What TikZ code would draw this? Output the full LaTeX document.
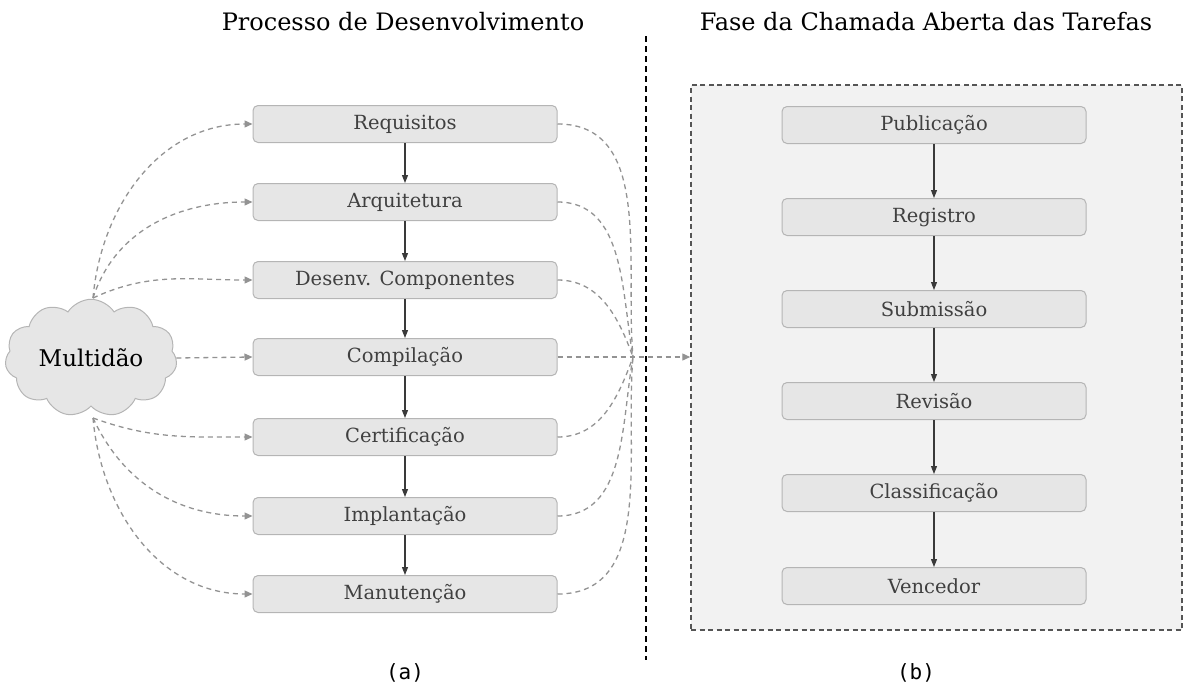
\documentclass[tikz,border=0pt]{standalone}
\usepackage{fontspec}
\setmainfont{DejaVu Serif}
\newfontfamily\labfont{DejaVu Sans Mono}
\usetikzlibrary{shapes.symbols,arrows.meta}
\definecolor{boxfill}{HTML}{E6E6E6}
\definecolor{boxline}{HTML}{B5B5B5}
\definecolor{boxtext}{HTML}{404040}
\definecolor{arrowc}{HTML}{3A3A3A}
\definecolor{dashc}{HTML}{939393}
\definecolor{panelfill}{HTML}{F2F2F2}
\definecolor{panelline}{HTML}{555555}
\begin{document}
\begin{tikzpicture}[x=1pt,y=-1pt,
  stagebox/.style={draw=boxline, fill=boxfill, rounded corners=5pt, minimum width=304pt,
    minimum height=37pt, inner sep=0pt, text=boxtext, line width=1pt,
    font=\fontsize{19.5}{22}\selectfont},
  flow/.style={-{Triangle[length=8pt,width=6pt]}, line width=1.1pt, draw=arrowc},
  crowd/.style={draw=dashc, line width=1.3pt, dash pattern=on 5pt off 4pt},
  crowdarrow/.style={crowd, -{Triangle[length=8pt,width=7pt,fill=dashc]}},
  title/.style={font=\fontsize{24}{28}\selectfont, text=black},
  sublabel/.style={font=\labfont\fontsize{21}{24}\selectfont}]
\useasboundingbox (0,0) rectangle (1185,691);

% titles
\node[title] (t1) at (403,22) {Processo de Desenvolvimento};
\node[title] (t2) at (926,22) {Fase da Chamada Aberta das Tarefas};

% separator
\coordinate (s1) at (646,36);
\coordinate (s2) at (646,660);
\draw[line width=1.6pt, dash pattern=on 6pt off 4pt] (s1) -- (s2);

% panel
\node[draw=panelline, fill=panelfill, line width=1.5pt, dash pattern=on 5pt off 3.5pt,
  minimum width=491pt, minimum height=545pt, inner sep=0pt] (fase) at (936.5,357.5) {};

% left stages
\node[stagebox] (req) at (405,124) {Requisitos};
\node[stagebox] (arq) at (405,202) {Arquitetura};
\node[stagebox] (des) at (405,280) {Desenv. Componentes};
\node[stagebox] (comp) at (405,357) {Compilação};
\node[stagebox] (cert) at (405,437) {Certificação};
\node[stagebox] (impl) at (405,516) {Implantação};
\node[stagebox] (man) at (405,594) {Manutenção};

\foreach \a/\b in {req/arq,arq/des,des/comp,comp/cert,cert/impl,impl/man}
  \draw[flow] (\a.south) -- (\b.north);

% right stages
\node[stagebox] (pub) at (934,125) {Publicação};
\node[stagebox] (reg) at (934,217) {Registro};
\node[stagebox] (sub) at (934,309) {Submissão};
\node[stagebox] (rev) at (934,401) {Revisão};
\node[stagebox] (cla) at (934,493) {Classificação};
\node[stagebox] (ven) at (934,586) {Vencedor};

\foreach \a/\b in {pub/reg,reg/sub,sub/rev,rev/cla,cla/ven}
  \draw[flow] (\a.south) -- (\b.north);

% cloud
\node[cloud, cloud puffs=11, cloud puff arc=115, aspect=1.5, draw=boxline, fill=boxfill,
  line width=1pt, minimum width=172pt, minimum height=112pt, inner sep=0pt,
  font=\fontsize{23}{26}\selectfont] (crowdnode) at (91,358) {Multidão};

\coordinate (ctop) at (93,298);
\coordinate (cbot) at (93,418);
\coordinate (merge) at (633,357);

% crowd -> stages
\draw[crowdarrow] (ctop) to[out=85,in=180] (req.west);
\draw[crowdarrow] (ctop) to[out=72,in=180] (arq.west);
\draw[crowdarrow] (ctop) to[out=25,in=180] (des.west);
\draw[crowdarrow] (crowdnode.east) -- (comp.west);
\draw[crowdarrow] (cbot) to[out=-20,in=180] (cert.west);
\draw[crowdarrow] (cbot) to[out=-65,in=180] (impl.west);
\draw[crowdarrow] (cbot) to[out=-85,in=180] (man.west);

% stages -> merge
\draw[crowd] (req.east) to[out=0,in=95] (merge);
\draw[crowd] (arq.east) to[out=0,in=100] (merge);
\draw[crowd] (des.east) to[out=0,in=110] (merge);
\draw[crowd] (cert.east) to[out=0,in=-110] (merge);
\draw[crowd] (impl.east) to[out=0,in=-100] (merge);
\draw[crowd] (man.east) to[out=0,in=-95] (merge);
\draw[crowdarrow] (comp.east) -- (comp.east -| fase.west);

% sub labels
\node[sublabel] (la) at (405,673) {(a)};
\node[sublabel] (lb) at (916,673) {(b)};
\end{tikzpicture}
\end{document}
